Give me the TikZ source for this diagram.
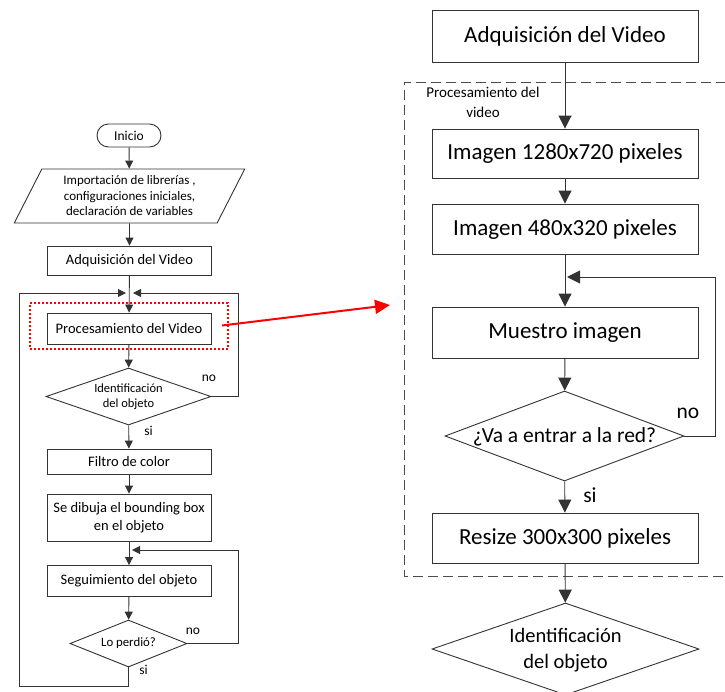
\documentclass[tikz,border=0pt]{standalone}
\usepackage{fontspec}
\setmainfont{Carlito}
\usetikzlibrary{arrows.meta,shapes.geometric,calc}

\begin{document}
\begin{tikzpicture}[x=1pt,y=-1pt,
  ln/.style={draw=black!80, line width=0.9pt},
  arrS/.style={ln,-{Triangle[length=8pt,width=8pt]}},
  arrL/.style={ln,-{Triangle[length=13pt,width=13pt]}},
  sbox/.style={ln, rectangle, inner sep=0pt, align=center, minimum width=164pt,
    font=\fontsize{14.5}{17.7}\selectfont},
  lbox/.style={ln, rectangle, inner sep=0pt, align=center, minimum width=266pt,
    minimum height=50pt, font=\fontsize{23}{28}\selectfont},
  dia/.style={ln, diamond, inner sep=0pt},
  stxt/.style={font=\fontsize{13.5}{16}\selectfont, inner sep=0pt},
  btxt/.style={font=\fontsize{21.5}{26}\selectfont, inner sep=0pt, align=center},
]
\useasboundingbox (0,0) rectangle (725,691);

% ---------- general flow (left) ----------
\node[ln, rectangle, rounded corners=11.5pt, minimum width=64pt, minimum height=23pt,
  inner sep=0pt, font=\fontsize{13.5}{16}\selectfont] (inicio) at (129,135.5) {Inicio};
\node[ln, trapezium, trapezium left angle=62.6, trapezium right angle=117.4,
  trapezium stretches=true, minimum width=231pt, minimum height=54pt, inner sep=0pt,
  align=center, font=\fontsize{13}{15.5}\selectfont] (imp) at (129.5,196)
  {Importación de librerías ,\\configuraciones iniciales,\\declaración de variables};
\node[sbox, minimum height=29pt] (adq1) at (129.5,260.5) {Adquisición del Video};
\node[sbox, minimum height=31pt] (proc1) at (129,328.5) {Procesamiento del Video};
\node[draw=red, line width=2.2pt, dash pattern=on 2pt off 2pt, rectangle,
  minimum width=198pt, minimum height=46pt, inner sep=0pt] (sel) at (129,326) {};
\node[dia, minimum width=165pt, minimum height=57pt] (id1) at (128.5,396.5) {};
\node[align=center, font=\fontsize{12.5}{14.7}\selectfont, inner sep=0pt] at (id1) {Identificación\\del objeto};
\node[sbox, minimum height=25pt] (filtro) at (129,461.5) {Filtro de color};
\node[sbox, minimum height=47pt] (dibuja) at (129,517.5) {Se dibuja el bounding box\\en el objeto};
\node[sbox, minimum height=31pt] (seg) at (129,581) {Seguimiento del objeto};
\node[dia, minimum width=117pt, minimum height=47pt] (perd) at (128.5,643.5) {};
\node[font=\fontsize{12.8}{15}\selectfont, inner sep=0pt] at (perd) {Lo perdió?};

\coordinate (j1) at (129.5,293);
\coordinate (j2) at (129,550);
\coordinate (loopBL) at (19,686);
\coordinate (loopTL) at (19,293);
\coordinate (loopR1) at (238,293);
\coordinate (loopR2) at (238,550);

\draw[arrS] (inicio) -- (imp);
\draw[arrS] (imp) -- (adq1);
\draw[arrS] (adq1) -- (proc1);
\draw[arrS] (proc1) -- (id1);
\draw[arrS] (id1) -- (filtro);
\draw[arrS] (filtro) -- (dibuja);
\draw[arrS] (dibuja) -- (seg);
\draw[arrS] (seg) -- (perd);
\draw[arrS, shorten >=3.5pt] (id1.east) -- (loopR1 |- id1.east) -- (loopR1) -- (j1);
\draw[arrS, shorten >=3.5pt] (perd.south) -- (perd.south |- loopBL) -- (loopBL) -- (loopTL) -- (j1);
\draw[arrS, shorten >=3pt] (perd.east) -- (loopR2 |- perd.east) -- (loopR2) -- (j2);

\node[stxt] at (209,378) {no};
\node[stxt] at (148.5,431) {si};
\node[stxt] at (193,631) {no};
\node[stxt] at (143.5,670) {si};

% ---------- detail of the processing step (right) ----------
\draw[draw=black!70, line width=0.9pt, dash pattern=on 10pt off 5pt]
  (726,82) -- (404,82) -- (404,576) -- (726,576);
\node[align=center, font=\fontsize{15}{20}\selectfont, inner sep=0pt] (plabel) at (483,102.5)
  {Procesamiento del\\video};

\node[lbox, minimum height=52pt] (adq2) at (565,36) {Adquisición del Video};
\node[lbox, minimum height=49pt] (img1) at (565,153.5) {Imagen 1280x720 pixeles};
\node[lbox] (img2) at (565,229) {Imagen 480x320 pixeles};
\node[lbox, minimum height=51pt] (mues) at (565,332.5) {Muestro imagen};
\node[dia, minimum width=239pt, minimum height=90pt] (red) at (564.5,436) {};
\node[btxt] at (564.5,437) {¿Va a entrar a la red?};
\node[lbox] (resize) at (565,538) {Resize 300x300 pixeles};
\node[dia, minimum width=267pt, minimum height=92pt] (id2) at (565.5,649) {};
\node[btxt, font=\fontsize{20.5}{26}\selectfont] at (565.5,650) {Identificación\\del objeto};

\coordinate (j3) at (565,277);
\coordinate (loopR3) at (715,277);

\draw[arrL] (adq2) -- (img1);
\draw[arrL] (img1) -- (img2);
\draw[arrL] (img2) -- (mues);
\draw[arrL] (mues) -- (red);
\draw[arrL] (red) -- (resize);
\draw[arrL] (resize) -- (id2);
\draw[arrL, shorten >=2pt] (red.east) -- (loopR3 |- red.east) -- (loopR3) -- (j3);

\node[btxt] at (688,413) {no};
\node[btxt] at (590,495) {si};

% ---------- zoom pointer ----------
\coordinate (rs) at (222,325.5);
\coordinate (re) at (390,305);
\draw[red, line width=2pt, -{Triangle[length=15pt,width=14pt]}] (rs) -- (re);
\end{tikzpicture}
\end{document}
